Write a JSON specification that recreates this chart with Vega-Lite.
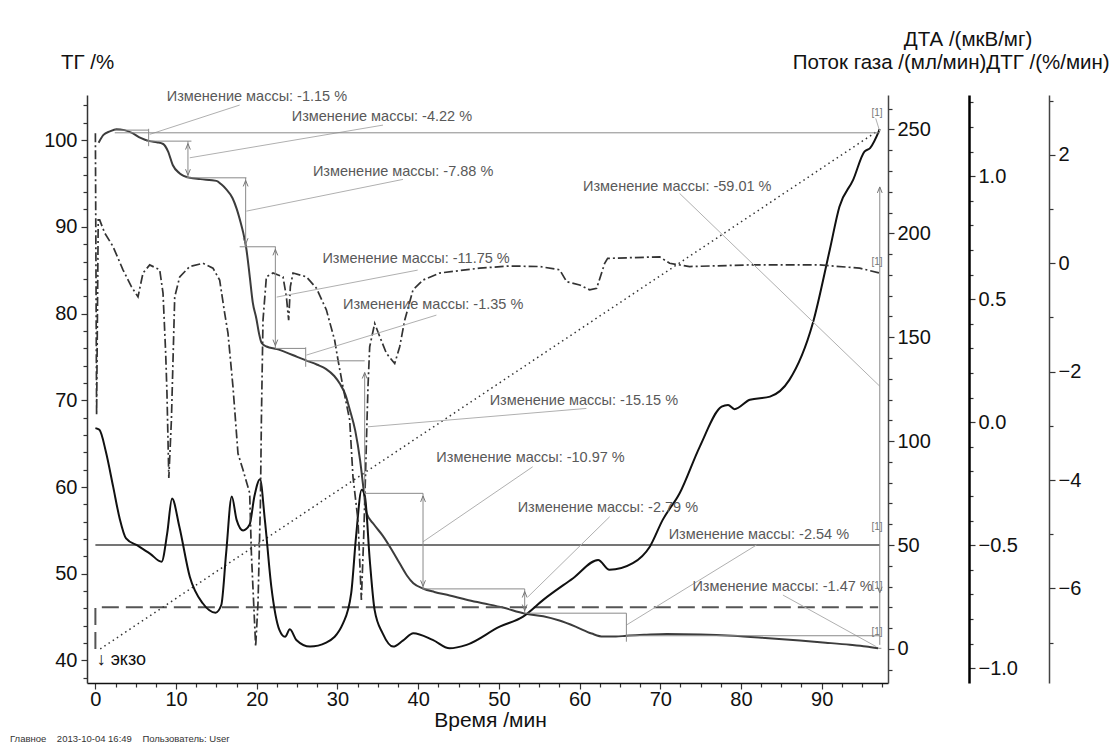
{
"$schema":"https://vega.github.io/schema/vega-lite/v6.json",
"width":801,"height":588,
"autosize":{"type":"none"},
"padding":{"left":87,"top":95,"right":221,"bottom":65},
"title":{"text":"Главное\u00a0\u00a0\u00a0 2013-10-04 16:49\u00a0\u00a0\u00a0 Пользователь: User","orient":"bottom","anchor":"start","frame":"group","fontSize":9.5,"fontWeight":"normal","color":"#333","dx":-77,"offset":4,"font":"Liberation Sans"},
"datasets":{
"tg":[{"t":0.4,"v":99.7},{"t":1.0,"v":100.6},{"t":1.8,"v":101.0},{"t":2.6,"v":101.25},{"t":3.6,"v":101.15},{"t":4.6,"v":100.8},{"t":5.6,"v":100.25},{"t":6.7,"v":99.88},{"t":7.6,"v":99.75},{"t":8.4,"v":99.55},{"t":9.0,"v":98.7},{"t":9.6,"v":97.1},{"t":10.45,"v":96.16},{"t":11.7,"v":95.65},{"t":13.0,"v":95.5},{"t":15.0,"v":95.3},{"t":15.6,"v":94.9},{"t":16.2,"v":94.35},{"t":17.0,"v":93.3},{"t":17.5,"v":92.1},{"t":18.0,"v":90.5},{"t":18.3,"v":89.4},{"t":18.7,"v":87.5},{"t":19.1,"v":84.5},{"t":19.5,"v":81.3},{"t":19.95,"v":79.4},{"t":20.3,"v":77.6},{"t":20.6,"v":76.6},{"t":21.2,"v":76.2},{"t":22.5,"v":75.9},{"t":23.7,"v":75.5},{"t":25.0,"v":75.0},{"t":26.1,"v":74.6},{"t":27.5,"v":74.1},{"t":28.6,"v":73.6},{"t":29.6,"v":72.8},{"t":30.3,"v":71.9},{"t":31.0,"v":70.6},{"t":31.5,"v":69.0},{"t":32.2,"v":66.5},{"t":32.8,"v":63.1},{"t":33.3,"v":59.2},{"t":33.6,"v":57.0},{"t":34.5,"v":55.7},{"t":35.6,"v":54.4},{"t":36.7,"v":52.8},{"t":37.7,"v":51.2},{"t":38.6,"v":49.8},{"t":39.4,"v":48.9},{"t":40.6,"v":48.3},{"t":42.0,"v":47.9},{"t":43.9,"v":47.5},{"t":46.0,"v":47.0},{"t":48.0,"v":46.6},{"t":50.5,"v":46.1},{"t":53.2,"v":45.4},{"t":55.5,"v":45.1},{"t":57.5,"v":44.6},{"t":59.5,"v":43.9},{"t":61.5,"v":43.1},{"t":62.9,"v":42.75},{"t":64.5,"v":42.75},{"t":65.8,"v":42.85},{"t":68.0,"v":42.95},{"t":70.8,"v":43.05},{"t":75.0,"v":43.0},{"t":79.0,"v":42.85},{"t":83.0,"v":42.6},{"t":87.3,"v":42.3},{"t":90.5,"v":42.05},{"t":93.5,"v":41.8},{"t":95.5,"v":41.6},{"t":97.0,"v":41.4}],
"dta":[{"t":0,"v":-0.024},{"t":0.5,"v":-0.031},{"t":1.3,"v":-0.12},{"t":2.2,"v":-0.262},{"t":3.0,"v":-0.39},{"t":3.8,"v":-0.472},{"t":5.3,"v":-0.503},{"t":6.8,"v":-0.535},{"t":8.2,"v":-0.567},{"t":8.9,"v":-0.451},{"t":9.5,"v":-0.31},{"t":10.4,"v":-0.424},{"t":11.7,"v":-0.628},{"t":13.3,"v":-0.736},{"t":14.9,"v":-0.774},{"t":15.6,"v":-0.743},{"t":16.2,"v":-0.533},{"t":16.9,"v":-0.302},{"t":17.5,"v":-0.397},{"t":18.3,"v":-0.44},{"t":19.1,"v":-0.417},{"t":19.7,"v":-0.302},{"t":20.4,"v":-0.232},{"t":21.0,"v":-0.397},{"t":21.8,"v":-0.668},{"t":22.8,"v":-0.844},{"t":23.5,"v":-0.872},{"t":24.1,"v":-0.842},{"t":24.9,"v":-0.885},{"t":26.6,"v":-0.912},{"t":28.6,"v":-0.896},{"t":30.7,"v":-0.817},{"t":31.7,"v":-0.695},{"t":32.3,"v":-0.465},{"t":33.0,"v":-0.275},{"t":33.4,"v":-0.302},{"t":34.0,"v":-0.56},{"t":34.6,"v":-0.763},{"t":35.6,"v":-0.858},{"t":36.9,"v":-0.912},{"t":38.1,"v":-0.888},{"t":39.4,"v":-0.858},{"t":41.8,"v":-0.885},{"t":43.9,"v":-0.919},{"t":46.0,"v":-0.905},{"t":50.1,"v":-0.831},{"t":53.0,"v":-0.79},{"t":55.5,"v":-0.722},{"t":59.2,"v":-0.634},{"t":62.3,"v":-0.56},{"t":63.7,"v":-0.6},{"t":66.6,"v":-0.573},{"t":68.7,"v":-0.506},{"t":70.3,"v":-0.397},{"t":72.4,"v":-0.289},{"t":74.9,"v":-0.099},{"t":77.6,"v":0.063},{"t":78.4,"v":0.07},{"t":79.2,"v":0.053},{"t":81.1,"v":0.091},{"t":83.6,"v":0.104},{"t":86.0,"v":0.172},{"t":88.9,"v":0.402},{"t":91.0,"v":0.7},{"t":92.2,"v":0.876},{"t":93.9,"v":0.985},{"t":95.3,"v":1.1},{"t":96.0,"v":1.114},{"t":97.2,"v":1.191}],
"dtg":[{"t":0.0,"v":2.4},{"t":0.15,"v":-2.8},{"t":0.35,"v":0.8},{"t":0.53,"v":0.8},{"t":1.15,"v":0.56},{"t":2.18,"v":0.31},{"t":3.42,"v":-0.12},{"t":4.46,"v":-0.43},{"t":5.28,"v":-0.62},{"t":5.9,"v":-0.18},{"t":6.73,"v":-0.03},{"t":7.97,"v":-0.12},{"t":8.38,"v":-0.55},{"t":8.71,"v":-1.66},{"t":8.87,"v":-2.4},{"t":9.1,"v":-3.96},{"t":9.42,"v":-2.89},{"t":9.83,"v":-0.62},{"t":10.45,"v":-0.25},{"t":11.69,"v":-0.06},{"t":13.33,"v":0.0},{"t":14.57,"v":-0.09},{"t":15.4,"v":-0.31},{"t":16.02,"v":-0.92},{"t":16.43,"v":-1.29},{"t":17.05,"v":-2.28},{"t":17.67,"v":-3.51},{"t":18.29,"v":-3.81},{"t":19.12,"v":-4.24},{"t":19.33,"v":-5.35},{"t":19.86,"v":-7.07},{"t":20.15,"v":-6.27},{"t":20.45,"v":-4.43},{"t":20.57,"v":-2.89},{"t":20.77,"v":-1.05},{"t":21.19,"v":-0.25},{"t":22.01,"v":-0.18},{"t":23.25,"v":-0.25},{"t":23.67,"v":-0.62},{"t":23.95,"v":-1.05},{"t":24.16,"v":-0.43},{"t":24.49,"v":-0.18},{"t":26.15,"v":-0.25},{"t":27.39,"v":-0.46},{"t":28.62,"v":-0.86},{"t":29.65,"v":-1.42},{"t":30.06,"v":-1.78},{"t":30.68,"v":-2.28},{"t":31.51,"v":-2.89},{"t":31.92,"v":-3.94},{"t":32.54,"v":-4.74},{"t":32.96,"v":-6.21},{"t":33.25,"v":-5.04},{"t":33.49,"v":-3.81},{"t":33.66,"v":-2.89},{"t":33.78,"v":-2.28},{"t":33.99,"v":-1.54},{"t":34.61,"v":-1.11},{"t":35.23,"v":-1.35},{"t":36.06,"v":-1.66},{"t":37.09,"v":-1.85},{"t":37.71,"v":-1.54},{"t":38.33,"v":-1.05},{"t":39.36,"v":-0.49},{"t":40.59,"v":-0.31},{"t":42.66,"v":-0.18},{"t":47.62,"v":-0.09},{"t":51.34,"v":-0.05},{"t":55.05,"v":-0.06},{"t":57.53,"v":-0.12},{"t":58.4,"v":-0.34},{"t":60.01,"v":-0.4},{"t":61.25,"v":-0.49},{"t":62.12,"v":-0.46},{"t":63.11,"v":0.0},{"t":63.48,"v":0.09},{"t":69.92,"v":0.12},{"t":71.16,"v":0.0},{"t":73.64,"v":-0.06},{"t":81.08,"v":-0.03},{"t":89.75,"v":-0.03},{"t":94.71,"v":-0.09},{"t":97.19,"v":-0.18}],
"gas1":[{"t":0,"v":50},{"t":97.2,"v":50}],
"gas2":[{"i":1,"t":0,"v":0},{"i":2,"t":0,"v":20},{"i":3,"t":97.0,"v":20}],
"temp":[{"t":0.6,"v":0},{"t":97.2,"v":250}],
"leaders":[{"t":17.88,"v":104.04,"t2":6.73,"v2":100.66},{"t":35.64,"v":101.73,"t2":11.69,"v2":97.96},{"t":38.12,"v":95.47,"t2":18.71,"v2":91.81},{"t":39.94,"v":85.01,"t2":22.47,"v2":81.9},{"t":42.26,"v":79.82,"t2":26.15,"v2":75.21},{"t":60.84,"v":69.06,"t2":33.78,"v2":66.94},{"t":54.19,"v":62.33,"t2":40.59,"v2":53.68},{"t":63.73,"v":56.57,"t2":53.61,"v2":47.34},{"t":81.91,"v":53.3,"t2":65.8,"v2":44.08},{"t":85.2,"v":47.54,"t2":96.78,"v2":41.58},{"t":72.4,"v":93.85,"t2":97.18,"v2":71.64},{"t":96.7,"v":102.5,"t2":97.2,"v2":101.0}],
"brackets":[{"t":2.4,"v":100.84,"t2":97.2,"v2":100.84},{"t":2.4,"v":101.15,"t2":6.6,"v2":101.15},{"t":6.6,"v":101.3,"t2":6.6,"v2":99.3},{"t":6.3,"v":99.88,"t2":11.9,"v2":99.88},{"t":11.47,"v":99.88,"t2":11.47,"v2":95.65},{"t":11.28,"v":95.65,"t2":18.71,"v2":95.65},{"t":18.62,"v":95.65,"t2":18.62,"v2":87.7},{"t":17.88,"v":87.7,"t2":22.34,"v2":87.7},{"t":22.3,"v":87.7,"t2":22.3,"v2":75.98},{"t":22.3,"v":75.98,"t2":26.06,"v2":75.98},{"t":26.06,"v":76.1,"t2":26.06,"v2":73.86},{"t":26.06,"v":74.55,"t2":33.37,"v2":74.55},{"t":33.37,"v":73.2,"t2":33.37,"v2":59.27},{"t":33.37,"v":59.27,"t2":40.6,"v2":59.27},{"t":40.6,"v":59.27,"t2":40.6,"v2":48.25},{"t":40.6,"v":48.25,"t2":53.2,"v2":48.25},{"t":53.2,"v":48.25,"t2":53.2,"v2":45.45},{"t":53.2,"v":45.45,"t2":65.8,"v2":45.45},{"t":65.8,"v":45.45,"t2":65.8,"v2":42.16},{"t":65.8,"v":42.85,"t2":97.2,"v2":42.85},{"t":97.2,"v":41.8,"t2":97.2,"v2":94.6},{"t":97.0,"v":41.4,"t2":97.4,"v2":41.4}],
"arrows":[{"t":11.47,"v":99.6,"dir":"up"},{"t":11.47,"v":95.95,"dir":"down"},{"t":18.62,"v":95.35,"dir":"up"},{"t":18.62,"v":88.0,"dir":"down"},{"t":22.3,"v":87.4,"dir":"up"},{"t":22.3,"v":76.3,"dir":"down"},{"t":33.37,"v":73.2,"dir":"up"},{"t":40.6,"v":58.97,"dir":"up"},{"t":40.6,"v":48.55,"dir":"down"},{"t":53.2,"v":47.95,"dir":"up"},{"t":53.2,"v":45.75,"dir":"down"},{"t":97.2,"v":94.6,"dir":"up"},{"t":97.2,"v":47.8,"dir":"down"}],
"labels":[{"t":8.84,"v":104.99,"txt":"Изменение массы: -1.15 %"},{"t":24.33,"v":102.65,"txt":"Изменение массы: -4.22 %"},{"t":26.96,"v":96.35,"txt":"Изменение массы: -7.88 %"},{"t":28.13,"v":86.24,"txt":"Изменение массы: -11.75 %"},{"t":30.68,"v":81.0,"txt":"Изменение массы: -1.35 %"},{"t":48.86,"v":69.94,"txt":"Изменение массы: -15.15 %"},{"t":42.25,"v":63.3,"txt":"Изменение массы: -10.97 %"},{"t":52.33,"v":57.53,"txt":"Изменение массы: -2.79 %"},{"t":71.04,"v":54.46,"txt":"Изменение массы: -2.54 %"},{"t":73.98,"v":48.43,"txt":"Изменение массы: -1.47 %"},{"t":60.43,"v":94.62,"txt":"Изменение массы: -59.01 %"}],
"ones":[{"t":96.16,"v":103.15,"txt":"[1]"},{"t":96.16,"v":85.97,"txt":"[1]"},{"t":96.16,"v":55.41,"txt":"[1]"},{"t":96.16,"v":48.6,"txt":"[1]"},{"t":96.16,"v":43.31,"txt":"[1]"}],
"exo":[{"t":0.16,"v":40.0,"txt":"↓ экзо"}]
},
"layer":[
{"data":{"name":"tg"},"mark":{"type":"line","color":"#3c3c3c","strokeWidth":2,"interpolate":"monotone"},
 "encoding":{
  "x":{"field":"t","type":"quantitative","scale":{"domain":[-1.04,98.22],"nice":false,"zero":false},
   "axis":{"values":[0,2.5,5,7.5,10,12.5,15,17.5,20,22.5,25,27.5,30,32.5,35,37.5,40,42.5,45,47.5,50,52.5,55,57.5,60,62.5,65,67.5,70,72.5,75,77.5,80,82.5,85,87.5,90,92.5,95,97.5],
    "labelExpr":"datum.value % 10 === 0 ? datum.label : ''",
    "tickSize":{"condition":{"test":"datum.value % 10 === 0","value":6},"value":4},
    "labelFontSize":20,"labelPadding":0,"title":"Время /мин","titleFontSize":21,"titleX":403,"titleY":37,"titleBaseline":"middle","titleAlign":"center","domainColor":"#111","domainWidth":1.5}},
  "y":{"field":"v","type":"quantitative","scale":{"domain":[37.4,105.2],"nice":false,"zero":false},
   "axis":{"orient":"left","values":[38,40,42,44,46,48,50,52,54,56,58,60,62,64,66,68,70,72,74,76,78,80,82,84,86,88,90,92,94,96,98,100,102,104],
    "labelExpr":"datum.value % 10 === 0 ? datum.label : ''",
    "tickSize":{"condition":{"test":"datum.value % 10 === 0","value":6},"value":4},
    "labelPadding":4,"title":"ТГ /%","titleAngle":0,"titleX":0,"titleY":-33,"titleAlign":"center","titleBaseline":"middle"}}}},
{"data":{"name":"gas1"},"mark":{"type":"line","color":"#474747","strokeWidth":1.5},
 "encoding":{
  "x":{"field":"t","type":"quantitative","scale":{"domain":[-1.04,98.22],"nice":false,"zero":false},"axis":null},
  "y":{"field":"v","type":"quantitative","scale":{"domain":[-16.4,266.6],"nice":false,"zero":false},
   "axis":{"orient":"right","offset":0,"values":[-10,0,10,20,30,40,50,60,70,80,90,100,110,120,130,140,150,160,170,180,190,200,210,220,230,240,250,260],
    "labelExpr":"datum.value % 50 === 0 ? datum.label : ''",
    "tickSize":{"condition":{"test":"datum.value % 50 === 0","value":6},"value":4},
    "labelPadding":3,"title":"Поток газа /(мл/мин)","titleAngle":0,"titleX":1,"titleY":-33,"titleAlign":"center","titleBaseline":"middle","domainColor":"#444"}}}},
{"data":{"name":"gas2"},"mark":{"type":"line","color":"#555","strokeWidth":2,"strokeDash":[17,7]},
 "encoding":{
  "x":{"field":"t","type":"quantitative","scale":{"domain":[-1.04,98.22],"nice":false,"zero":false},"axis":null},
  "y":{"field":"v","type":"quantitative","scale":{"domain":[-16.4,266.6],"nice":false,"zero":false},"axis":null},
  "order":{"field":"i"}}},
{"data":{"name":"temp"},"mark":{"type":"line","color":"#333","strokeWidth":1.5,"strokeDash":[1.5,3.5]},
 "encoding":{
  "x":{"field":"t","type":"quantitative","scale":{"domain":[-1.04,98.22],"nice":false,"zero":false},"axis":null},
  "y":{"field":"v","type":"quantitative","scale":{"domain":[-16.4,266.6],"nice":false,"zero":false},"axis":null}}},
{"data":{"name":"dta"},"mark":{"type":"line","color":"#111","strokeWidth":2,"interpolate":"monotone"},
 "encoding":{
  "x":{"field":"t","type":"quantitative","scale":{"domain":[-1.04,98.22],"nice":false,"zero":false},"axis":null},
  "y":{"field":"v","type":"quantitative","scale":{"domain":[-1.06,1.33],"nice":false,"zero":false},
   "axis":{"orient":"right","offset":81,"values":[-1.0,-0.9,-0.8,-0.7,-0.6,-0.5,-0.4,-0.3,-0.2,-0.1,0.0,0.1,0.2,0.3,0.4,0.5,0.6,0.7,0.8,0.9,1.0,1.1,1.2,1.3],
    "labelExpr":"abs(datum.value*2 - round(datum.value*2)) < 0.01 ? format(datum.value, '.1f') : ''",
    "tickSize":{"condition":{"test":"abs(datum.value*2 - round(datum.value*2)) < 0.01","value":6},"value":4},
    "labelPadding":3,"title":"ДТА /(мкВ/мг)","titleAngle":0,"titleX":-1.5,"titleY":-56,"titleAlign":"center","titleBaseline":"middle","domainColor":"#000","domainWidth":2.5}}}},
{"data":{"name":"dtg"},"mark":{"type":"line","color":"#333","strokeWidth":1.7,"strokeDash":[9,3,2,3]},
 "encoding":{
  "x":{"field":"t","type":"quantitative","scale":{"domain":[-1.04,98.22],"nice":false,"zero":false},"axis":null},
  "y":{"field":"v","type":"quantitative","scale":{"domain":[-7.744,3.105],"nice":false,"zero":false},
   "axis":{"orient":"right","offset":161,"values":[-7,-6,-5,-4,-3,-2,-1,0,1,2,3],
    "labelExpr":"datum.value % 2 === 0 ? datum.label : ''",
    "tickSize":{"condition":{"test":"datum.value % 2 === 0","value":6},"value":4},
    "labelPadding":3,"title":"ДТГ /(%/мин)","titleAngle":0,"titleX":-1.5,"titleY":-33,"titleAlign":"center","titleBaseline":"middle","domainColor":"#444"}}}},
{"data":{"name":"leaders"},"mark":{"type":"rule","color":"#b0b0b0","strokeWidth":1},
 "encoding":{
  "x":{"field":"t","type":"quantitative","scale":{"domain":[-1.04,98.22],"nice":false,"zero":false},"axis":null},
  "x2":{"field":"t2"},
  "y":{"field":"v","type":"quantitative","scale":{"domain":[37.4,105.2],"nice":false,"zero":false},"axis":null},
  "y2":{"field":"v2"}}},
{"data":{"name":"brackets"},"mark":{"type":"rule","color":"#8a8a8a","strokeWidth":1},
 "encoding":{
  "x":{"field":"t","type":"quantitative","scale":{"domain":[-1.04,98.22],"nice":false,"zero":false},"axis":null},
  "x2":{"field":"t2"},
  "y":{"field":"v","type":"quantitative","scale":{"domain":[37.4,105.2],"nice":false,"zero":false},"axis":null},
  "y2":{"field":"v2"}}},
{"data":{"name":"arrows"},"mark":{"type":"point","filled":false,"color":"#777","strokeWidth":1,"size":64,"opacity":1},
 "encoding":{
  "x":{"field":"t","type":"quantitative","scale":{"domain":[-1.04,98.22],"nice":false,"zero":false},"axis":null},
  "y":{"field":"v","type":"quantitative","scale":{"domain":[37.4,105.2],"nice":false,"zero":false},"axis":null},
  "shape":{"field":"dir","type":"nominal","scale":{"domain":["up","down"],"range":["M-0.6,1.5L0,0L0.6,1.5","M-0.6,-1.5L0,0L0.6,-1.5"]},"legend":null}}},
{"data":{"name":"labels"},"mark":{"type":"text","align":"left","baseline":"middle","fontSize":14.5,"color":"#595959","font":"Liberation Sans"},
 "encoding":{
  "x":{"field":"t","type":"quantitative","scale":{"domain":[-1.04,98.22],"nice":false,"zero":false},"axis":null},
  "y":{"field":"v","type":"quantitative","scale":{"domain":[37.4,105.2],"nice":false,"zero":false},"axis":null},
  "text":{"field":"txt"}}},
{"data":{"name":"ones"},"mark":{"type":"text","align":"left","baseline":"middle","fontSize":10,"color":"#777","font":"Liberation Sans"},
 "encoding":{
  "x":{"field":"t","type":"quantitative","scale":{"domain":[-1.04,98.22],"nice":false,"zero":false},"axis":null},
  "y":{"field":"v","type":"quantitative","scale":{"domain":[37.4,105.2],"nice":false,"zero":false},"axis":null},
  "text":{"field":"txt"}}},
{"data":{"name":"exo"},"mark":{"type":"text","align":"left","baseline":"middle","fontSize":18,"color":"#111","font":"Liberation Sans"},
 "encoding":{
  "x":{"field":"t","type":"quantitative","scale":{"domain":[-1.04,98.22],"nice":false,"zero":false},"axis":null},
  "y":{"field":"v","type":"quantitative","scale":{"domain":[37.4,105.2],"nice":false,"zero":false},"axis":null},
  "text":{"field":"txt"}}}
],
"resolve":{"scale":{"y":"independent","shape":"independent"},"axis":{"y":"independent","x":"independent"}},
"config":{
 "view":{"stroke":null},
 "font":"Liberation Sans",
 "axis":{"labelFont":"Liberation Sans","titleFont":"Liberation Sans","labelFontSize":20,"titleFontSize":20.5,"titleFontWeight":"normal","labelColor":"#111","titleColor":"#111","grid":false,"domainWidth":1.5,"domainColor":"#333","tickColor":"#333","tickWidth":1.2,"labelOverlap":false,"labelBound":false,"labelFlush":false}
}
}
